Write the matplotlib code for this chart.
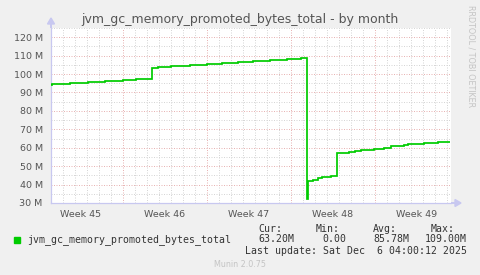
import matplotlib
matplotlib.use("Agg")
import matplotlib.pyplot as plt
from matplotlib.ticker import MultipleLocator, FuncFormatter

# ---- data (time in days, value in millions) ----
edges = [1.0, 1.11, 2.58, 4.11, 5.5, 7.03, 8.06, 9.45, 9.94, 11.0, 12.58,
         13.97, 15.22, 16.56, 17.86, 19.25, 20.64, 21.83, 22.3, 22.4, 22.86,
         23.25, 23.58, 24.33, 24.8, 25.83, 26.33, 26.83, 27.92, 28.75, 29.33,
         30.42, 30.75, 32.08, 33.25, 34.25]
values = [94.2, 94.8, 95.3, 95.7, 96.4, 97.0, 97.5, 103.3, 103.9, 104.4,
          105.0, 105.5, 106.1, 106.6, 107.1, 107.7, 108.2, 108.8, 32.2, 41.8,
          42.4, 43.5, 44.2, 44.9, 57.3, 57.8, 58.4, 58.9, 59.5, 60.0, 60.7,
          61.5, 62.2, 62.7, 63.3]
week_bounds = [7, 14, 21, 28]
week_labels = ["Week 45", "Week 46", "Week 47", "Week 48", "Week 49"]
week_centers = [3.5, 10.5, 17.5, 24.5, 31.5]
series_name = "jvm_gc_memory_promoted_bytes_total"
stats_hdr = ["Cur:", "Min:", "Avg:", "Max:"]
stats_val = ["63.20M", "0.00", "85.78M", "109.00M"]

W, H = 481, 275
fig = plt.figure(figsize=(W / 100, H / 100), dpi=100, facecolor="#F0F0F0")

def fx(x):
    return x / W

def fy(y):
    return 1 - y / H

ax = fig.add_axes([fx(51), fy(203), fx(400), 175 / H], facecolor="white")
ax.set_xlim(1.0, 34.33)
ax.set_ylim(30, 125)

line_col = "#00CC00"
ax.stairs(values, edges, baseline=None, color=line_col, linewidth=1.25, zorder=3)

# grid
minor_col = "#D6D6D6"
major_col = "#E8B4B4"
dot = (0, (1, 1.5))
glw = 0.72
for d in range(2, 35):
    if d not in week_bounds:
        ax.axvline(d, color=minor_col, lw=glw, ls=dot, zorder=1)
for d in week_bounds:
    ax.axvline(d, color=major_col, lw=glw, ls=dot, zorder=1)
for v in range(35, 126, 10):
    ax.axhline(v, color=minor_col, lw=glw, ls=dot, zorder=1)
for v in range(40, 121, 10):
    ax.axhline(v, color=major_col, lw=glw, ls=dot, zorder=1)

ax.yaxis.set_major_locator(MultipleLocator(10))
ax.yaxis.set_major_formatter(FuncFormatter(lambda v, p: f"{int(v)} M"))
ax.set_xticks(week_centers)
ax.set_xticklabels(week_labels)
ax.tick_params(axis="both", colors="#555555", labelsize=6.8, length=0, pad=3)
ax.tick_params(axis="x", pad=5)
ax.tick_params(axis="y", pad=6)

for s in ["top", "right"]:
    ax.spines[s].set_visible(False)
axis_col = "#C8C8F0"
for s in ["left", "bottom"]:
    ax.spines[s].set_color(axis_col)
    ax.spines[s].set_linewidth(0.9)

# arrows
fig.patches.append(matplotlib.patches.FancyArrow(
    fx(451), fy(203), fx(4), 0, width=0, head_width=7 / H, head_length=6 / W,
    color=axis_col, transform=fig.transFigure, length_includes_head=False))
fig.patches.append(matplotlib.patches.FancyArrow(
    fx(51), fy(28), 0, 4 / H, width=0, head_width=7 / W, head_length=6 / H,
    color=axis_col, transform=fig.transFigure, length_includes_head=False))

# title
fig.text(fx(240), fy(22.7), series_name + " - by month", ha="center",
         va="baseline", fontsize=9, color="#555555")

# side text
fig.text(fx(471), fy(5), "RRDTOOL / TOBI OETIKER", rotation=270, ha="center",
         va="top", fontsize=5.8, color="#C4C4C4")

# legend
mono = "DejaVu Sans Mono"
fs = 7.1
fig.patches.append(matplotlib.patches.Rectangle(
    (fx(13.5), fy(242.5)), fx(6), 6 / H, color=line_col,
    transform=fig.transFigure))
fig.text(fx(27), fy(239.5), series_name, family=mono, fontsize=fs,
         color="#333333", va="center", ha="left")
hdr_x = [258, 316, 373, 431]
val_x = [258, 322, 373, 425]
for t, x in zip(stats_hdr, hdr_x):
    fig.text(fx(x), fy(228.5), t, family=mono, fontsize=fs, color="#333333",
             va="center", ha="left")
for t, x in zip(stats_val, val_x):
    fig.text(fx(x), fy(239.5), t, family=mono, fontsize=fs, color="#333333",
             va="center", ha="left")
fig.text(fx(245), fy(251.5), "Last update: Sat Dec  6 04:00:12 2025",
         family=mono, fontsize=fs, color="#333333", va="center", ha="left")
fig.text(fx(240), fy(264.5), "Munin 2.0.75", fontsize=5.8, color="#C4C4C4",
         ha="center", va="center")

fig.savefig("out.png", dpi=100, facecolor=fig.get_facecolor())
